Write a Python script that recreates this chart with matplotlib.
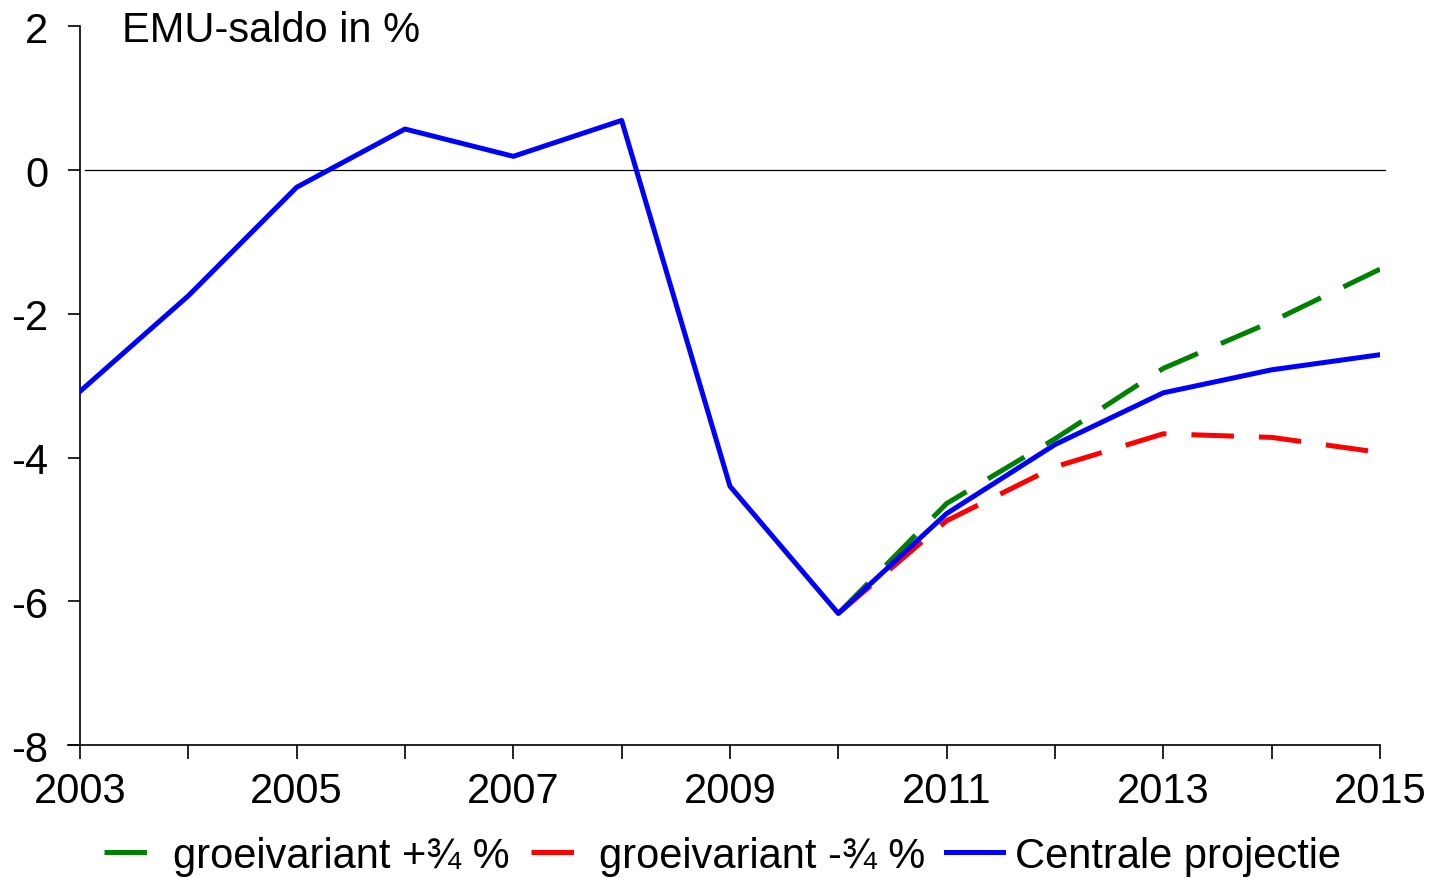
import numpy as np
import matplotlib.pyplot as plt

plt.rcParams['font.family'] = ['Liberation Sans', 'DejaVu Sans']

# data
years = np.arange(2003, 2016)
centraal = [-3.08, -1.75, -0.24, 0.57, 0.19, 0.69, -4.40, -6.17, -4.78, -3.82, -3.10, -2.78, -2.57]
var_years = np.arange(2010, 2016)
groei_plus = [-6.17, -4.64, -3.74, -2.76, -2.11, -1.38]
groei_min = [-6.17, -4.88, -4.13, -3.67, -3.72, -3.93]

year_labels = [str(y) if y % 2 == 1 else '' for y in years]
ytick_vals = [-8, -6, -4, -2, 0, 2]

fig = plt.figure(figsize=(14.34, 8.79), dpi=100)
ax = fig.add_axes([0.0558, 0.1513, 0.9065, 0.8177])

fs = 30
lw = 3.6

ax.axhline(0, xmin=0.004, xmax=1.004, color='black', lw=0.9, clip_on=False, zorder=1)

l1, = ax.plot(var_years, groei_plus, color='#008000', lw=lw, label='groeivariant +¾ %', zorder=2)
l1.set_dashes((8.5, 5))
l2, = ax.plot(var_years, groei_min, color='#ff0000', lw=lw, label='groeivariant -¾ %', zorder=2)
l2.set_dashes((8.5, 5))
l3, = ax.plot(years, centraal, color='#0000ff', lw=lw, label='Centrale projectie', zorder=3)

ax.set_xlim(2003, 2015)
ax.set_ylim(-8, 2)
ax.set_xticks(years)
ax.set_xticklabels(year_labels)
ax.set_yticks(ytick_vals)
ax.set_yticklabels([str(v) for v in ytick_vals])

for s in ['top', 'right']:
    ax.spines[s].set_visible(False)
ax.spines['left'].set_linewidth(1.2)
ax.spines['bottom'].set_linewidth(1.2)
ax.spines['bottom'].set_bounds(2003 - 0.11, 2015)

ax.tick_params(axis='y', direction='out', length=9, width=1.2, pad=14, labelsize=fs)
ax.tick_params(axis='x', direction='out', length=10, width=1.2, pad=9, labelsize=fs)

ax.text(0.032, 0.995, 'EMU-saldo in %', transform=ax.transAxes, fontsize=fs,
        ha='left', va='center')

fig.legend(handles=[l1, l2, l3], loc='center', bbox_to_anchor=(0.504, 0.025),
           ncol=3, frameon=False, fontsize=fs, handlelength=1.35,
           handletextpad=0.3, columnspacing=0.5, borderpad=0, borderaxespad=0)

fig.savefig('out.png', dpi=100)
